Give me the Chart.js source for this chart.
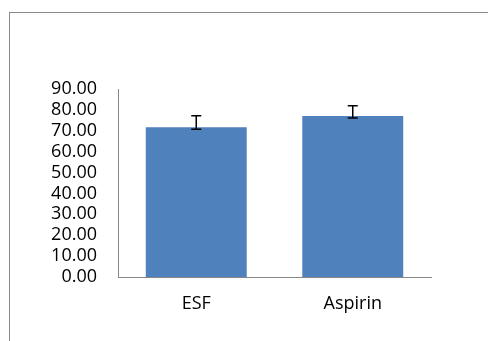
<!DOCTYPE html>
<html>
<head>
<meta charset="utf-8">
<script src="https://cdn.jsdelivr.net/npm/chart.js@4/dist/chart.umd.min.js"></script>
<style>
  html, body { margin: 0; padding: 0; background: #fff; overflow: hidden; }
  #wrap { position: relative; width: 488px; height: 341px; overflow: hidden; }
  #frame { position: absolute; left: 9px; top: 12px; width: 600px; height: 400px; border: 1px solid #8a8a8a; box-sizing: border-box; }
  canvas { position: absolute; left: 0; top: 0; }
</style>
</head>
<body>
<div id="wrap">
  <div id="frame"></div>
  <canvas id="c" width="488" height="341"></canvas>
</div>
<script>
const categories = ['ESF', 'Aspirin'];
const meanValues = [71.7, 77.1];
const errorPlus = [5.5, 4.9];
const errorMinus = [1.0, 1.0];
const yTicks = [0, 10, 20, 30, 40, 50, 60, 70, 80, 90];

const errorBarPlugin = {
  id: 'errorBars',
  afterDatasetsDraw(chart) {
    const ctx = chart.ctx;
    const meta = chart.getDatasetMeta(0);
    const y = chart.scales.y;
    ctx.save();
    ctx.strokeStyle = '#000';
    ctx.lineWidth = 1.5;
    meta.data.forEach((bar, i) => {
      const x = bar.x;
      const top = y.getPixelForValue(meanValues[i] + errorPlus[i]);
      const bot = y.getPixelForValue(meanValues[i] - errorMinus[i]);
      const hw = 5;
      ctx.beginPath();
      ctx.moveTo(x, top); ctx.lineTo(x, bot);
      ctx.moveTo(x - hw, top); ctx.lineTo(x + hw, top);
      ctx.moveTo(x - hw, bot); ctx.lineTo(x + hw, bot);
      ctx.stroke();
    });
    ctx.restore();
  }
};

const font = { family: '"Open Sans", sans-serif', size: 18 };

new Chart(document.getElementById('c'), {
  type: 'bar',
  data: {
    labels: categories,
    datasets: [{
      data: meanValues,
      backgroundColor: '#4F81BD',
      borderWidth: 0,
      barPercentage: 0.645,
      categoryPercentage: 1.0
    }]
  },
  options: {
    responsive: false,
    animation: false,
    devicePixelRatio: 1,
    layout: { padding: { top: 89, right: 57, bottom: 0, left: 0 } },
    plugins: { legend: { display: false }, tooltip: { enabled: false } },
    scales: {
      x: {
        grid: { display: false, drawTicks: false },
        border: { display: true, color: '#868686', width: 1 },
        ticks: { color: '#000', font: font, padding: 16 },
        afterFit(scale) { scale.height = 64; }
      },
      y: {
        min: 0, max: 90,
        afterBuildTicks(scale) { scale.ticks = yTicks.map(v => ({ value: v })); },
        grid: { display: false, drawTicks: false },
        border: { display: true, color: '#868686', width: 1 },
        ticks: { color: '#000', font: font, padding: 21, autoSkip: false, callback: v => Number(v).toFixed(2) },
        afterFit(scale) { scale.width = 118; }
      }
    }
  },
  plugins: [errorBarPlugin]
});
</script>
</body>
</html>
